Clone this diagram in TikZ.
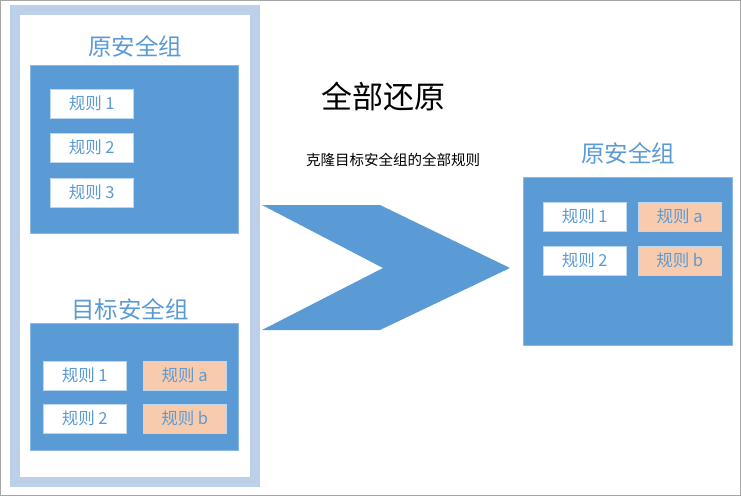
\documentclass[tikz,border=0pt]{standalone}
\usepackage{fontspec}
\setmainfont{Noto Sans CJK SC}
\definecolor{mblue}{HTML}{5B9BD5}
\definecolor{lblue}{HTML}{BDD0E9}
\definecolor{morange}{HTML}{F8CBAD}
\begin{document}
\begin{tikzpicture}[x=1pt,y=-1pt,
  rule/.style={draw=mblue!40,fill=white,minimum width=83pt,minimum height=29pt,inner sep=0pt,text=mblue,font=\fontsize{16.5}{16.5}\selectfont},
  rulex/.style={rule,fill=morange},
  ttl/.style={text=mblue,font=\fontsize{23.5}{23.5}\selectfont},
  panel/.style={fill=mblue,draw=mblue!70}]
\useasboundingbox (0,0) rectangle (741,496);
\draw[gray!70] (0.5,0.5) rectangle (740.5,495.5);
\fill[lblue] (10,5) rectangle (260,487);
\fill[white] (20,15) rectangle (250,477);
\node[ttl] (t1) at (135,46) {原安全组};
\path[panel] (30,65) rectangle (238,233);
\node[rule,anchor=north west] (r1) at (50,89) {规则 1};
\node[rule,anchor=north west] (r2) at (50,133) {规则 2};
\node[rule,anchor=north west] (r3) at (50,178) {规则 3};
\node[ttl] (t2) at (130,309) {目标安全组};
\path[panel] (30,323) rectangle (238,450);
\node[rule,anchor=north west] (s1) at (43,361) {规则 1};
\node[rulex,anchor=north west] (sa) at (143,361) {规则 a};
\node[rule,anchor=north west] (s2) at (43,404) {规则 2};
\node[rulex,anchor=north west] (sb) at (143,404) {规则 b};
\fill[mblue] (262,205) -- (380,205) -- (510,268) -- (380,330) -- (262,330) -- (383,268) -- cycle;
\node[font=\fontsize{31}{31}\selectfont] (h) at (383,97) {全部还原};
\node[font=\fontsize{14.5}{14.5}\selectfont] (sub) at (393,160) {克隆目标安全组的全部规则};
\node[ttl] (t3) at (628,153) {原安全组};
\path[panel] (523,177) rectangle (732,345);
\node[rule,anchor=north west] (u1) at (543,202) {规则 1};
\node[rulex,anchor=north west] (ua) at (638,202) {规则 a};
\node[rule,anchor=north west] (u2) at (543,246) {规则 2};
\node[rulex,anchor=north west] (ub) at (638,246) {规则 b};
\end{tikzpicture}
\end{document}
